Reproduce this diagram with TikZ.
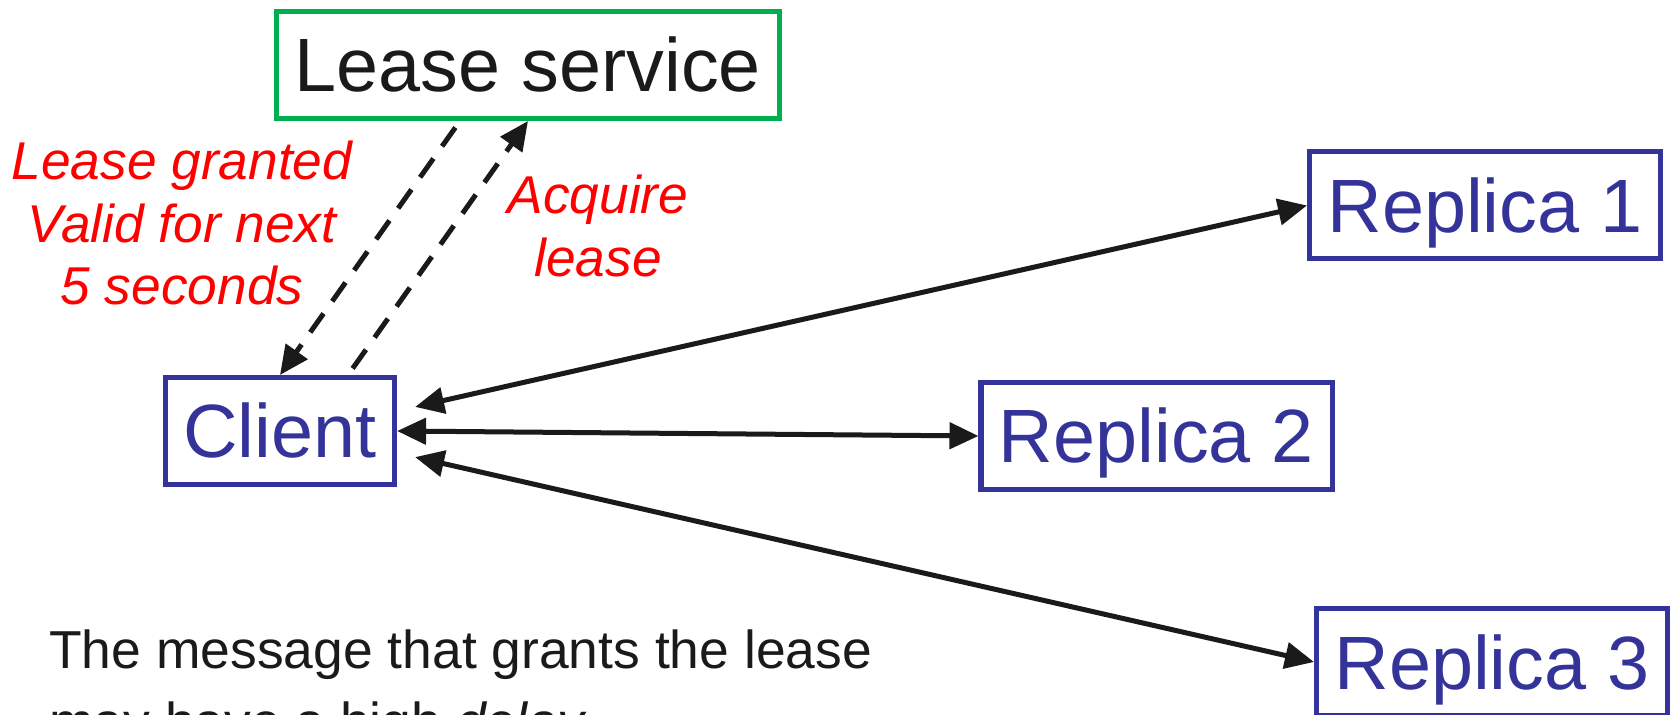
\documentclass[tikz,border=0pt]{standalone}
\usepackage{fontspec}
\setmainfont{Liberation Sans}
\usetikzlibrary{arrows.meta}

\definecolor{repblue}{RGB}{51,51,153}
\definecolor{leasegreen}{RGB}{0,176,80}
\definecolor{ink}{RGB}{26,26,26}

\tikzstyle{unit}=[rectangle,draw,line width=0.1cm,inner xsep=0.36cm,minimum height=2.14cm,text height=1.08cm,text depth=0pt,font=\fontsize{43}{50}\selectfont]
\tikzstyle{machine}=[unit,draw=repblue,text=repblue]
\tikzstyle{service}=[unit,draw=leasegreen,text=ink]
\tikzstyle{note}=[text=red,align=center,font=\fontsize{30.3}{35.6}\selectfont\itshape]
\tikzstyle{link}=[draw=ink,line width=0.1cm,<->]
\tikzstyle{msg}=[draw=ink,line width=0.1cm,dash pattern=on 0.46cm off 0.3cm,->]

\begin{document}
\begin{tikzpicture}[>={Triangle[length=0.58cm,width=0.52cm]}]
		\useasboundingbox (0,0) rectangle (33.42,-14.30);
		\clip (0,0) rectangle (33.42,-14.30);

		\node [service] (lease)  at (10.56,-1.30)  {Lease service};
		\node [machine] (client) at (5.60,-8.62)   {Client};
		\node [machine] (rep1)   at (29.70,-4.11)  {Replica 1};
		\node [machine] (rep2)   at (23.13,-8.72)  {Replica 2};
		\node [machine] (rep3)   at (29.84,-13.24) {Replica 3};

		\node [note] (granted) at (3.64,-4.46)  {Lease granted\\Valid for next\\5 seconds};
		\node [note] (acquire) at (11.96,-4.52) {Acquire\\lease};

		\node [anchor=north west,inner sep=0pt,align=left,text=ink,font=\fontsize{30.4}{41}\selectfont] (remark) at (0.98,-12.58)
			{The message that grants the lease\\may have a high \textit{delay}};

		% client talks to every replica
		\draw [link,shorten <=0.37cm] ([yshift=0.40cm]client.east)  -- (rep1.west);
		\draw [link]                  (client.east)                  -- (rep2.west);
		\draw [link,shorten <=0.37cm] ([yshift=-0.44cm]client.east) -- (rep3.west);

		% lease request and grant
		\draw [msg,shorten <=0.16cm] ([xshift=-1.36cm]lease.south) -- (client.north);
		\draw [msg,shorten <=0.16cm] ([xshift=1.36cm]client.north) -- (lease.south);
	\end{tikzpicture}
\end{document}
